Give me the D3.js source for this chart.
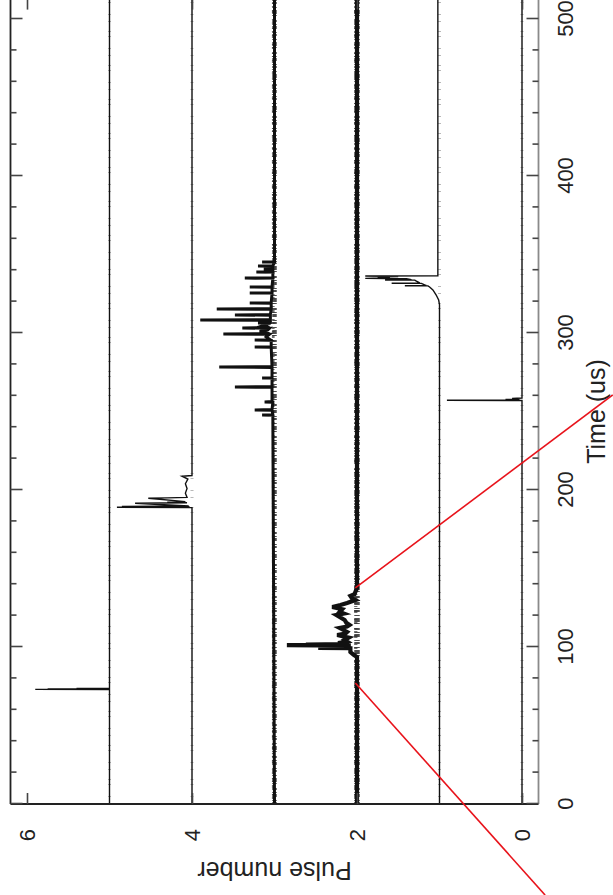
<!DOCTYPE html>
<html>
<head>
<meta charset="utf-8">
<script src="https://cdn.jsdelivr.net/npm/d3@7"></script>
<style>
  html, body { margin: 0; padding: 0; background: #fff; overflow: hidden; }
  svg { display: block; }
</style>
</head>
<body>
<svg id="chart" width="613" height="895"></svg>
<script>
// ---- Data: each trace is [time (us), pulse level] ----
const pulseLevels = [0, 1, 2, 3, 4, 5];

const pulse0 = [[0,0],[257.0,0],[257.2,0.91],[257.4,0.12],[257.6,0.2],[257.9,0.03],[258.3,0.12],[258.6,0],[513,0]];

const pulse1 = [[0,1],[318,1.0],[321,1.01],[324.2,1.04],[327.4,1.08],[329.3,1.12],[330.0,1.14],[330.1,1.42],[330.3,1.16],
  [330.6,1.18],[331.6,1.22],[331.7,1.58],[331.9,1.24],[333.0,1.28],[333.7,1.3],[333.8,1.66],[334.0,1.34],[334.6,1.4],
  [334.8,1.9],[335.2,1.6],[335.6,1.75],[336.0,1.5],[336.3,1.9],[336.5,1.02],[513,1.02]];

const pulse2 = [[0,2],[93.6,2.0],[95.0,2.04],[96.8,2.08],[99.2,2.08],[99.4,2.47],[99.6,2.1],[100.9,2.1],[101.2,2.85],
  [101.4,2.2],[101.6,2.62],[101.9,2.15],[102.5,2.23],[103.5,2.12],[104.5,2.15],[106,2.1],[107.6,2.24],[108.6,2.14],
  [109.6,2.12],[111,2.17],[112.1,2.21],[113,2.12],[114.0,2.09],[115.5,2.13],[117.2,2.15],[118.8,2.2],[120.4,2.25],
  [121.3,2.16],[122.3,2.21],[124,2.18],[125.5,2.30],[126.7,2.2],[128.0,2.12],[129.9,2.02],[131,2.06],[132.5,2.08],
  [133.7,2.03],[135.0,2.02],[137.6,2.0],[513,2]];

const pulse3 = [[0,3],[247.6,3.02],[247.8,3.15],[248.0,3.02],[250.8,3.03],[251.0,3.24],[251.2,3.03],[255.9,3.02],
  [256.1,3.12],[256.3,3.03],[265.4,3.03],[265.6,3.48],[265.8,3.03],[271.1,3.03],[271.3,3.15],[271.5,3.03],[278.1,3.03],
  [278.3,3.67],[278.5,3.03],[290.9,3.04],[291.1,3.24],[291.3,3.04],[295.3,3.04],[295.5,3.24],[295.7,3.05],[297.5,3.10],
  [299.2,3.06],[299.4,3.62],[299.6,3.06],[301.0,3.18],[302.0,3.08],[303.0,3.06],[303.2,3.39],[303.4,3.06],[304.5,3.15],
  [306.2,3.05],[306.4,3.20],[306.6,3.05],[308.1,3.05],[308.3,3.90],[308.5,3.05],[311.3,3.05],[311.5,3.48],[311.7,3.05],
  [315.1,3.04],[315.3,3.70],[315.5,3.04],[318.9,3.04],[319.1,3.30],[319.3,3.04],[325.3,3.03],[325.5,3.30],[325.7,3.03],
  [329.1,3.03],[329.3,3.30],[329.5,3.03],[334.8,3.02],[335.0,3.36],[335.2,3.02],[338.7,3.02],[338.9,3.22],[339.1,3.02],
  [340.6,3.02],[340.8,3.13],[341.0,3.02],[342.5,3.02],[342.7,3.20],[342.9,3.02],[345.0,3.0],[345.2,3.15],[345.4,3.0],[513,3]];

const pulse4 = [[0,4],[188.8,4],[189.0,4.91],[189.3,4.03],[189.5,4.85],[189.8,4.04],[191.6,4.69],[191.9,4.06],[192.3,4.30],
  [192.6,4.08],[194.7,4.53],[195.0,4.30],[195.3,4.06],[198,4.08],[201,4.06],[204,4.08],[207,4.05],[208.8,4.12],[209.2,4.0],[513,4]];

const pulse5 = [[0,5],[72.9,5],[73.0,5.9],[73.15,5.2],[73.3,5.75],[73.45,5.05],[73.6,5.4],[73.8,5],[513,5]];

const timeMajorTicks = [0, 100, 200, 300, 400, 500];
const timeMinorTicks = [20,40,60,80,120,140,160,180,220,240,260,280,320,340,360,380,420,440,460,480];
const pulseTicks = [0, 2, 4, 6];
const timeEnd = 513;

// lines linking two instants on pulse 2 to an enlarged view: [time, level]
const linkLines = [
  { from: [137.6, 2.02], to: [260.5, -1.10] },
  { from: [77.1, 2.02],  to: [-58.0, -0.28] }
];

// ---- Layout ----
const FONT = "'Liberation Sans', Arial, Helvetica, sans-serif";
const svg = d3.select("#chart");

// The plot is built with time running horizontally and then turned a
// quarter turn counter-clockwise, so time runs upward on the page.
const g = svg.append("g").attr("transform", "translate(0,804) rotate(-90)");

const x = d3.scaleLinear().domain([0, 500]).range([0, 785]);
const y = d3.scaleLinear().domain([-0.2, 6.2]).range([538.5, 10.5]);

const line = d3.line().x(d => x(d[0])).y(d => y(d[1]));

// ---- Traces ----
const traces = [
  { data: pulse0, w: 1.4, noisy: false },
  { data: pulse1, w: 1.4, noisy: false },
  { data: pulse2, w: 4.2, noisy: true, nw: 5.5 },
  { data: pulse3, w: 3.0, noisy: true, nw: 4.5 },
  { data: pulse4, w: 1.4, noisy: false },
  { data: pulse5, w: 1.4, noisy: false }
];

traces.forEach((t, i) => {
  const lvl = pulseLevels[i];
  const base = [[0, lvl], [timeEnd, lvl]];
  if (t.noisy) {
    // rough edge texture along the noisy baseline
    g.append("path").attr("d", line(base))
      .attr("fill", "none").attr("stroke", "#222").attr("stroke-width", t.nw)
      .attr("stroke-dasharray", "2 1 1 3 3 1 1 2 2 4 1 1 4 2 1 3")
      .attr("opacity", 0.8);
    g.append("path").attr("d", line(base.map(d => [d[0], d[1] + 0.015])))
      .attr("fill", "none").attr("stroke", "#333").attr("stroke-width", t.nw * 0.6)
      .attr("stroke-dasharray", "1 4 2 2 1 6 3 3 1 2")
      .attr("opacity", 0.7);
  } else {
    g.append("path").attr("d", line(base))
      .attr("fill", "none").attr("stroke", "#888").attr("stroke-width", 3)
      .attr("stroke-dasharray", "1 6 1 11 1 4 1 9")
      .attr("opacity", 0.6);
  }
  g.append("path").attr("d", line(t.data))
    .attr("fill", "none").attr("stroke", "#111")
    .attr("stroke-width", t.w).attr("stroke-linejoin", "miter");
});

// ---- Frame ----
g.append("line").attr("x1", 0).attr("x2", 0).attr("y1", y(6.2)).attr("y2", y(-0.2))
  .attr("stroke", "#222").attr("stroke-width", 1.8);
g.append("line").attr("x1", 0).attr("x2", x(timeEnd)).attr("y1", y(6.2)).attr("y2", y(6.2))
  .attr("stroke", "#222").attr("stroke-width", 1.8);
g.append("line").attr("x1", 0).attr("x2", x(timeEnd)).attr("y1", y(-0.2)).attr("y2", y(-0.2))
  .attr("stroke", "#8a8a8a").attr("stroke-width", 1.8);

function styleAxis(sel) {
  sel.select(".domain").remove();
  sel.selectAll(".tick line").attr("stroke", "#444").attr("stroke-width", 1.6);
  sel.selectAll(".tick text").attr("fill", "#222");
}

// time axis, page-right side (with labels)
g.append("g").attr("transform", `translate(0,${y(-0.2)})`)
  .call(d3.axisBottom(x).tickValues(timeMinorTicks).tickSize(-6).tickFormat(""))
  .call(styleAxis);
g.append("g").attr("transform", `translate(0,${y(-0.2)})`)
  .call(d3.axisBottom(x).tickValues(timeMajorTicks).tickSize(-12).tickPadding(19).tickFormat(d3.format("d")))
  .call(styleAxis)
  .call(s => s.selectAll(".tick text").attr("font-family", FONT).attr("font-size", 22));

// time axis mirror, page-left side
g.append("g").attr("transform", `translate(0,${y(6.2)})`)
  .call(d3.axisTop(x).tickValues(timeMinorTicks).tickSize(-6).tickFormat(""))
  .call(styleAxis);
g.append("g").attr("transform", `translate(0,${y(6.2)})`)
  .call(d3.axisTop(x).tickValues(timeMajorTicks).tickSize(-12).tickFormat(""))
  .call(styleAxis);

// pulse axis, page-bottom side (with labels)
g.append("g")
  .call(d3.axisLeft(y).tickValues(pulseTicks).tickSize(-11).tickPadding(25).tickFormat(d3.format("d")))
  .call(styleAxis)
  .call(s => s.selectAll(".tick text").attr("font-family", FONT).attr("font-size", 22));

// pulse axis mirror, page-top side
g.append("g").attr("transform", `translate(${x(timeEnd)},0)`)
  .call(d3.axisRight(y).tickValues(pulseTicks).tickSize(-11).tickFormat(""))
  .call(styleAxis);

// ---- Axis titles ----
g.append("text")
  .attr("x", x(250)).attr("y", 605)
  .attr("text-anchor", "middle")
  .attr("font-family", FONT).attr("font-size", 25).attr("fill", "#222")
  .text("Time (us)");

g.append("text")
  .attr("transform", `translate(-58,${(y(6.2) + y(-0.2)) / 2}) rotate(-90)`)
  .attr("text-anchor", "middle")
  .attr("font-family", FONT).attr("font-size", 25).attr("fill", "#222")
  .text("Pulse number");

// ---- Link lines ----
g.selectAll(".link").data(linkLines).enter().append("line")
  .attr("class", "link")
  .attr("x1", d => x(d.from[0])).attr("y1", d => y(d.from[1]))
  .attr("x2", d => x(d.to[0])).attr("y2", d => y(d.to[1]))
  .attr("stroke", "#e8131b").attr("stroke-width", 1.6);
</script>
</body>
</html>
